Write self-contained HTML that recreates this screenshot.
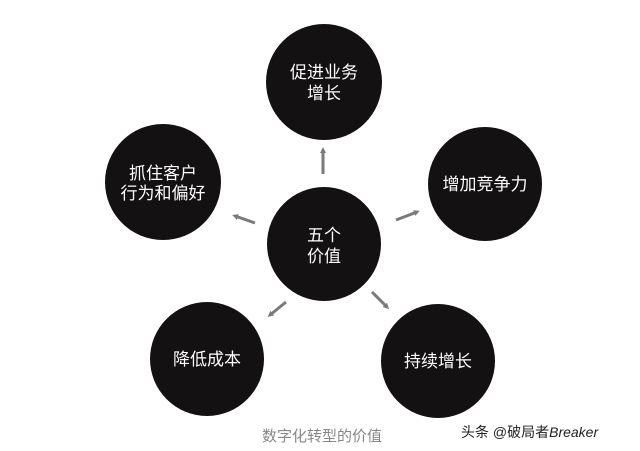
<!DOCTYPE html>
<html><head><meta charset="utf-8"><style>
html,body{margin:0;padding:0;background:#fff;}
svg{display:block}
text{font-family:"Liberation Sans","Noto Sans CJK SC",sans-serif;}
</style></head><body>
<svg width="640" height="451" viewBox="0 0 640 451">
<defs><marker id="a" markerWidth="6" markerHeight="6" refX="3" refY="3" orient="auto" markerUnits="userSpaceOnUse"><path d="M0,0 L6,3 L0,6 z" fill="#7a7a7a"/></marker></defs>
<g fill="#141112">
<circle cx="324" cy="82" r="58"/>
<circle cx="163" cy="182" r="58"/>
<circle cx="485" cy="184" r="57"/>
<circle cx="324" cy="244" r="57"/>
<circle cx="207" cy="359" r="57"/>
<circle cx="438" cy="361" r="57"/>
</g>
<g stroke="#7a7a7a" stroke-width="3" marker-end="url(#a)">
<line x1="323" y1="174" x2="323" y2="150"/>
<line x1="255" y1="223" x2="235" y2="216"/>
<line x1="396" y1="220" x2="417" y2="212"/>
<line x1="286" y1="302" x2="270" y2="315"/>
<line x1="372" y1="292" x2="387" y2="307"/>
</g>
<g fill="#fff" font-size="17" text-anchor="middle">
<text x="324" y="78">促进业务</text>
<text x="324" y="99">增长</text>
<text x="163" y="179">抓住客户</text>
<text x="163" y="199">行为和偏好</text>
<text x="485" y="190">增加竞争力</text>
<text x="324" y="241">五个</text>
<text x="324" y="262">价值</text>
<text x="207" y="365">降低成本</text>
<text x="438" y="367">持续增长</text>
</g>
<text x="322" y="441" font-size="15" fill="#888" text-anchor="middle">数字化转型的价值</text>
<text x="461" y="437" font-size="14" fill="#222">头条 @破局者<tspan font-style="italic">Breaker</tspan></text>
</svg>
</body></html>
